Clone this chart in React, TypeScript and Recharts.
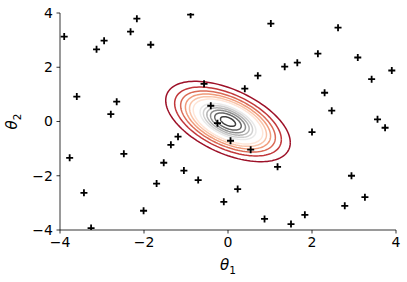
import React from "react";
import { ScatterChart, Scatter, XAxis, YAxis } from "recharts";

// prior samples (theta1, theta2)
const SAMPLE_T1 = [
  -3.9, -3.13, -2.95, -2.32, -2.17, -1.84, -0.89, -3.6, -2.65, -2.79,
  -0.57, -0.41, -0.25, 1.02, 2.62, 2.14, 1.65, 1.35, 0.71, 0.4,
  3.09, 3.9, 3.42, 2.3, 2.47, 3.56, -1.19, -1.36, -3.77, -2.48,
  -1.53, -1.05, -0.71, -1.7, -3.43, -0.1, -2.01, -3.26, 0.06, 0.54,
  2.0, 3.74, 1.18, 2.94, 0.23, 3.26, 2.78, 0.87, 1.83, 1.5,
];
const SAMPLE_T2 = [
  3.13, 2.66, 2.98, 3.31, 3.79, 2.83, 3.94, 0.92, 0.73, 0.27,
  1.39, 0.58, -0.06, 3.61, 3.46, 2.5, 2.17, 2.02, 1.69, 1.21,
  2.36, 1.88, 1.56, 1.06, 0.4, 0.08, -0.56, -0.86, -1.34, -1.19,
  -1.52, -1.81, -2.16, -2.29, -2.63, -2.96, -3.29, -3.93, -0.71, -1.04,
  -0.39, -0.23, -1.67, -2.0, -2.49, -2.79, -3.11, -3.59, -3.44, -3.78,
];

// posterior gaussian
const MEAN = [0, 0];
const SIGMA = [0.65, 0.65];
const RHO = -0.525;
// contour levels as fraction of the peak density, level index k of 14
const LEVEL_K = [1, 2, 3, 4, 5, 6, 7, 8, 9, 10, 11, 12, 13];
const PEAK_K = 13.5;
const N_LEVELS = 14;

const TICKS = [-4, -2, 0, 2, 4];

const RDGY = [
  "#67001f", "#b2182b", "#d6604d", "#f4a582", "#fddbc7", "#ffffff",
  "#e0e0e0", "#bababa", "#878787", "#4d4d4d", "#1a1a1a",
];

function cmap(t: number) {
  const p = Math.min(Math.max(t, 0), 1) * (RDGY.length - 1);
  const i = Math.min(Math.floor(p), RDGY.length - 2);
  const f = p - i;
  const a = RDGY[i], b = RDGY[i + 1];
  const ch = (s: string, o: number) => parseInt(s.slice(o, o + 2), 16);
  const mix = [1, 3, 5].map((o) => Math.round(ch(a, o) * (1 - f) + ch(b, o) * f));
  return `rgb(${mix.join(",")})`;
}

function ellipse(k: number) {
  const c = Math.sqrt(-2 * Math.log(k / PEAK_K));
  const [sx, sy] = SIGMA;
  const pts = [];
  for (let i = 0; i <= 120; i++) {
    const t = (i / 120) * Math.PI * 2;
    const u = Math.cos(t), v = Math.sin(t);
    pts.push({
      x: MEAN[0] + c * sx * u,
      y: MEAN[1] + c * sy * (RHO * u + Math.sqrt(1 - RHO * RHO) * v),
    });
  }
  return pts;
}

const samples = SAMPLE_T1.map((x, i) => ({ x, y: SAMPLE_T2[i] }));
const contours = LEVEL_K.map((k) => ({ k, pts: ellipse(k), color: cmap(k / N_LEVELS) }));

const FONT = "DejaVu Sans";
const fmt = (v: number) => (v < 0 ? `\u2212${-v}` : `${v}`);

const Plus = (props: any) => {
  const { cx, cy } = props;
  return (
    <path
      d={`M${cx - 3.5},${cy}H${cx + 3.5}M${cx},${cy - 3.5}V${cy + 3.5}`}
      stroke="#000"
      strokeWidth={1.8}
    />
  );
};

const XLabel = (props: any) => {
  const { x, y, width } = props.viewBox;
  return (
    <text x={x + width / 2} y={y + 40} textAnchor="middle" fontFamily={FONT} fontSize={15} fill="#000">
      <tspan fontStyle="italic">θ</tspan>
      <tspan fontSize={10.5} dy={4}>1</tspan>
    </text>
  );
};

const YLabel = (props: any) => {
  const { y, height } = props.viewBox;
  const cx = 17;
  const cy = y + height / 2;
  return (
    <text
      x={cx}
      y={cy}
      transform={`rotate(-90 ${cx} ${cy})`}
      textAnchor="middle"
      fontFamily={FONT}
      fontSize={15}
      fill="#000"
    >
      <tspan fontStyle="italic">θ</tspan>
      <tspan fontSize={10.5} dy={4}>2</tspan>
    </text>
  );
};

const tickStyle = { fontSize: 14, fill: "#000", fontFamily: FONT };

export default function App() {
  return (
    <div style={{ position: "absolute", left: 0, top: 0, background: "#fff" }}>
      <ScatterChart width={407} height={282} margin={{ top: 13, right: 11, bottom: 0, left: 0 }}>
        <XAxis
          xAxisId="x"
          type="number"
          dataKey="x"
          domain={[-4, 4]}
          ticks={TICKS}
          tickFormatter={fmt}
          allowDataOverflow
          height={52}
          tickSize={3.5}
          tickMargin={3.5}
          tick={tickStyle}
          stroke="#000"
          strokeWidth={0.8}
          label={<XLabel />}
        />
        <XAxis
          xAxisId="xt"
          orientation="top"
          type="number"
          domain={[-4, 4]}
          height={0}
          tick={false}
          tickLine={false}
          stroke="#000"
          strokeWidth={0.8}
        />
        <YAxis
          yAxisId="y"
          type="number"
          dataKey="y"
          domain={[-4, 4]}
          ticks={TICKS}
          tickFormatter={fmt}
          allowDataOverflow
          width={60}
          tickSize={3.5}
          tickMargin={3.5}
          tick={tickStyle}
          stroke="#000"
          strokeWidth={0.8}
          label={<YLabel />}
        />
        <YAxis
          yAxisId="yr"
          orientation="right"
          type="number"
          domain={[-4, 4]}
          width={0}
          tick={false}
          tickLine={false}
          stroke="#000"
          strokeWidth={0.8}
        />
        {contours.map((c) => (
          <Scatter
            key={c.k}
            xAxisId="x"
            yAxisId="y"
            data={c.pts}
            line={{ stroke: c.color, strokeWidth: 1.5 }}
            lineType="joint"
            shape={() => <g />}
            isAnimationActive={false}
          />
        ))}
        <Scatter
          xAxisId="x"
          yAxisId="y"
          data={samples}
          shape={<Plus />}
          isAnimationActive={false}
        />
      </ScatterChart>
    </div>
  );
}
